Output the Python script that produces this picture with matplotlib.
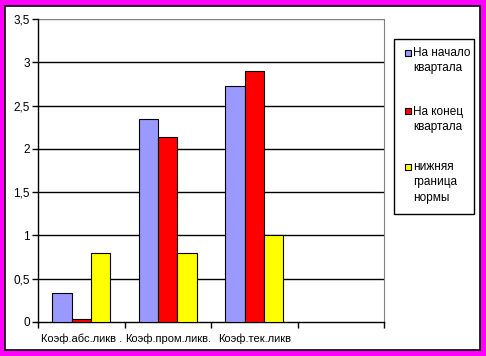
import matplotlib.pyplot as plt
import matplotlib.patches as patches
import numpy as np
from matplotlib.ticker import FuncFormatter

plt.rcParams['font.family'] = ['Liberation Sans', 'DejaVu Sans']

categories = ['Коэф.абс.ликв .', 'Коэф.пром.ликв.', 'Коэф.тек.ликв', '']
start_q = [0.335, 2.34, 2.725]
end_q = [0.035, 2.14, 2.895]
norm_low = [0.8, 0.8, 1.0]
series_names = [['На начало', 'квартала'], ['На конец', 'квартала'], ['нижняя', 'граница', 'нормы']]
colors = ['#9999FF', '#FF0000', '#FFFF00']

W, H = 486, 356
fig = plt.figure(figsize=(W / 100, H / 100), dpi=100, facecolor='#FF00FF')


def fx(px):
    return px / W


def fy(py):
    return 1 - py / H


# white panel with black frame
fig.patches.append(patches.Rectangle((fx(5), fy(350)), 475 / W, 344 / H, transform=fig.transFigure,
                                     facecolor='white', edgecolor='black', linewidth=1.2, zorder=-5))

ax = fig.add_axes([fx(38), fy(322), (384 - 38) / W, (322 - 19) / H])
ax.set_facecolor('white')

bw = 0.225
x = np.arange(3)
for i, vals in enumerate([start_q, end_q, norm_low]):
    ax.bar(x + (i - 1) * bw, vals, bw, color=colors[i], edgecolor='black',
           linewidth=0.8, zorder=3)

ax.set_xlim(-0.5, 3.5)
ax.set_ylim(0, 3.5)
ax.set_yticks(np.arange(0, 3.51, 0.5))
ax.yaxis.set_major_formatter(FuncFormatter(lambda v, p: ('%g' % v).replace('.', ',')))
for y in np.arange(0.5, 3.01, 0.5):
    ax.axhline(y, color='black', linewidth=1.0, zorder=1)
ax.axhline(3.5, color='#808080', linewidth=1.0, zorder=1)

ax.set_xticks(np.arange(-0.5, 3.6, 1))
ax.set_xticklabels([])
ax.set_xticks(np.arange(4), minor=True)
ax.set_xticklabels(categories, minor=True, fontsize=8)
ax.tick_params(axis='x', which='minor', length=0, pad=8)
ax.tick_params(axis='x', which='major', length=4, width=1, direction='out')
ax.tick_params(axis='y', length=4, width=1, direction='out', labelsize=8.5, pad=2)

ax.spines['top'].set_visible(False)
ax.spines['right'].set_color('#808080')
ax.spines['left'].set_linewidth(1.0)
ax.spines['bottom'].set_linewidth(1.0)

# legend box
fig.patches.append(patches.Rectangle((fx(394), fy(214)), 80 / W, 175 / H, transform=fig.transFigure,
                                     facecolor='white', edgecolor='black', linewidth=1.0))
entry_top = [53, 111.5, 166.5]
for i, lines in enumerate(series_names):
    y0 = entry_top[i]
    fig.patches.append(patches.Rectangle((fx(405), fy(y0 + 3)), 6 / W, 6 / H, transform=fig.transFigure,
                                         facecolor=colors[i], edgecolor='black', linewidth=0.8))
    for j, t in enumerate(lines):
        fig.text(fx(413), fy(y0 + j * 15.5), t, fontsize=8.5, va='center', ha='left')

fig.savefig('out.png', dpi=100, facecolor=fig.get_facecolor())
